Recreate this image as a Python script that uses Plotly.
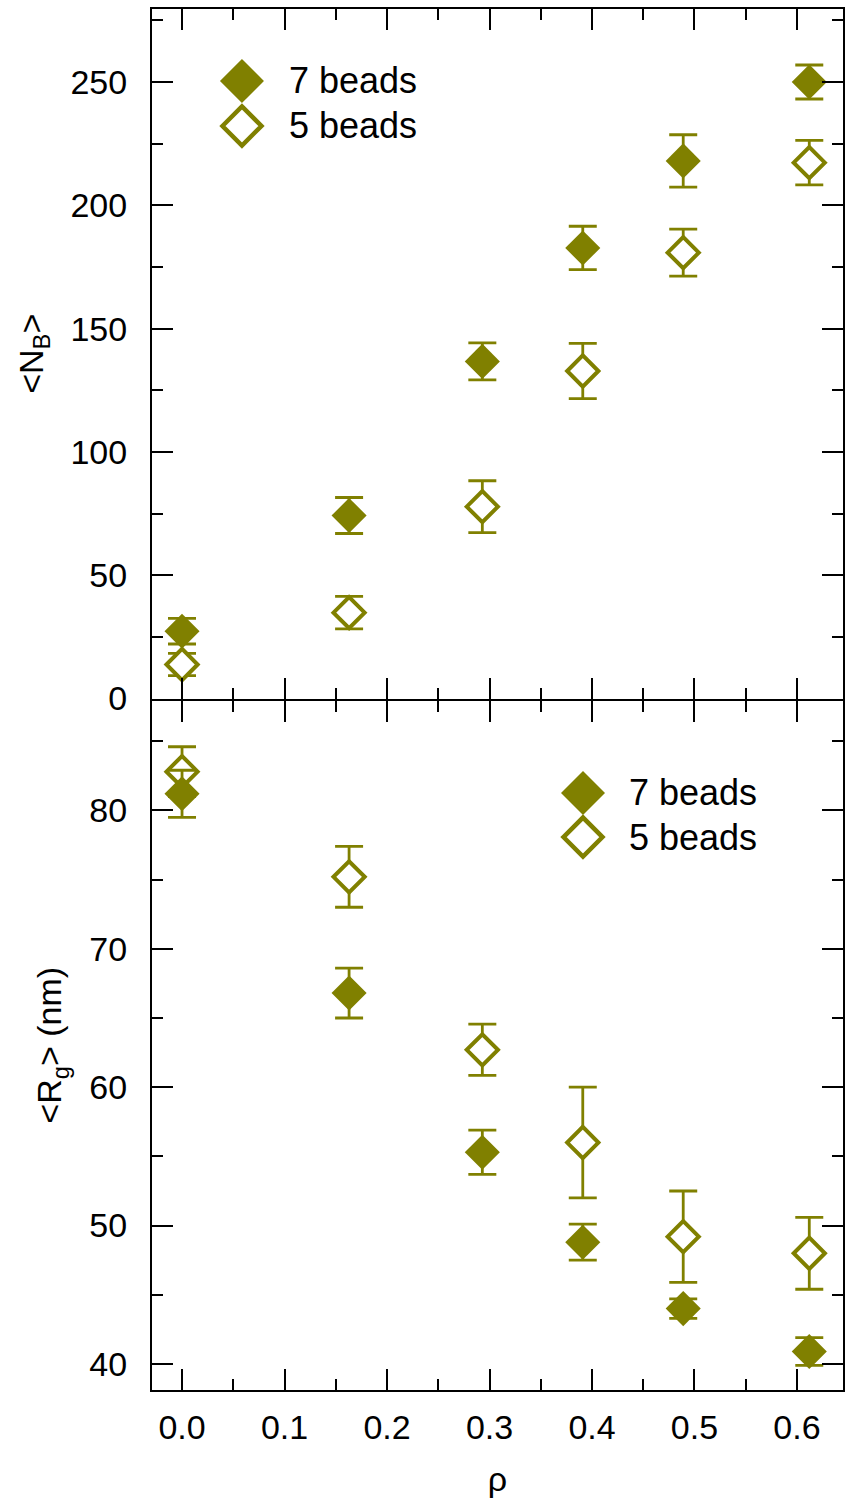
import plotly.graph_objects as go
from plotly.subplots import make_subplots

# densities (rho) shared by both panels
rho = [0.0, 0.163, 0.293, 0.391, 0.489, 0.612]

# <N_B>, top panel
nb_7 = [27.3, 74.2, 136.7, 182.7, 218.0, 250.0]
nb_7_err = [5.2, 7.3, 7.5, 8.8, 10.6, 6.9]
nb_5 = [13.8, 34.8, 77.8, 132.8, 180.8, 217.3]
nb_5_err = [4.5, 6.6, 10.5, 11.2, 9.5, 9.0]

# <R_g> (nm), bottom panel
rg_7 = [81.2, 66.8, 55.3, 48.8, 44.0, 40.9]
rg_7_err = [1.7, 1.8, 1.6, 1.3, 0.7, 1.0]
rg_5 = [82.8, 75.2, 62.7, 56.0, 49.2, 48.0]
rg_5_err = [1.8, 2.2, 1.85, 4.0, 3.3, 2.6]

labels = ["7 beads", "5 beads"]

OLIVE = "#808000"
FONT = "Liberation Sans, Arial, sans-serif"

# small gap so the two 2px axis lines land on the same pixel row
fig = make_subplots(rows=2, cols=1, shared_xaxes=True,
                    vertical_spacing=2 / 1381)


def add_pair(row, y_open, e_open, y_fill, e_fill):
    # open (white-filled) diamonds first, filled ones drawn on top
    fig.add_trace(go.Scatter(
        x=rho, y=y_open, mode="markers", name=labels[1], showlegend=False,
        marker=dict(symbol="diamond", size=24, color="white",
                    line=dict(color=OLIVE, width=4)),
        error_y=dict(type="data", array=e_open, color=OLIVE,
                     thickness=2.8, width=14),
    ), row=row, col=1)
    fig.add_trace(go.Scatter(
        x=rho, y=y_fill, mode="markers", name=labels[0], showlegend=False,
        marker=dict(symbol="diamond", size=27, color=OLIVE,
                    line=dict(width=0)),
        error_y=dict(type="data", array=e_fill, color=OLIVE,
                     thickness=2.8, width=14),
    ), row=row, col=1)


add_pair(1, nb_5, nb_5_err, nb_7, nb_7_err)
add_pair(2, rg_5, rg_5_err, rg_7, rg_7_err)


# hand-drawn legends (big symbols, like the original)
def legend_block(x, y_fill, y_open, x_text):
    fig.add_shape(type="path", xref="paper", yref="paper",
                  xsizemode="pixel", ysizemode="pixel",
                  xanchor=x, yanchor=y_fill,
                  path="M -22,0 L 0,22 L 22,0 L 0,-22 Z",
                  fillcolor=OLIVE, line=dict(width=0))
    fig.add_shape(type="path", xref="paper", yref="paper",
                  xsizemode="pixel", ysizemode="pixel",
                  xanchor=x, yanchor=y_open,
                  path="M -19.5,0 L 0,19.5 L 19.5,0 L 0,-19.5 Z",
                  fillcolor="white", line=dict(color=OLIVE, width=4.5))
    for lab, yy in zip(labels, [y_fill, y_open]):
        fig.add_annotation(x=x_text, y=yy, xref="paper", yref="paper",
                           text=lab, showarrow=False, xanchor="left",
                           yanchor="middle", font=dict(size=36, color="black"))


legend_block(0.1302, 0.9479, 0.9153, 0.1955)
legend_block(0.6237, 0.4323, 0.4004, 0.6875)

axis_common = dict(
    showline=True, linecolor="black", linewidth=2, mirror="ticks",
    ticks="inside", ticklen=21, tickwidth=2, tickcolor="black",
    showgrid=False, zeroline=False,
    tickfont=dict(size=34, color="black", family=FONT),
)

fig.update_xaxes(**axis_common, range=[-0.0293, 0.6449], dtick=0.1, tick0=0,
                 tickformat=".1f", ticklabelstandoff=6,
                 minor=dict(dtick=0.05, tick0=0, ticks="inside", ticklen=11,
                            tickwidth=2, tickcolor="black", showgrid=False))
fig.update_xaxes(showticklabels=False, row=1, col=1)
fig.update_xaxes(title=dict(text="ρ", font=dict(size=34, family=FONT),
                            standoff=22), row=2, col=1)

fig.update_yaxes(**axis_common)
fig.update_yaxes(range=[0, 279.6], dtick=50, tick0=0, ticklabelstandoff=16,
                 minor=dict(dtick=25, tick0=0, ticks="inside", ticklen=11,
                            tickwidth=2, tickcolor="black", showgrid=False),
                 title=dict(text="&lt;N<sub>B</sub>&gt;",
                            font=dict(size=34, family=FONT), standoff=17),
                 row=1, col=1)
fig.update_yaxes(range=[38.12, 87.94], dtick=10, tick0=0, ticklabelstandoff=16,
                 minor=dict(dtick=5, tick0=0, ticks="inside", ticklen=11,
                            tickwidth=2, tickcolor="black", showgrid=False),
                 title=dict(text="&lt;R<sub>g</sub>&gt; (nm)",
                            font=dict(size=34, family=FONT), standoff=17),
                 row=2, col=1)

fig.update_layout(
    width=851, height=1510,
    margin=dict(l=152, r=8, t=9, b=120, autoexpand=False),
    plot_bgcolor="white", paper_bgcolor="white",
    font=dict(family=FONT, color="black"),
    showlegend=False,
)

# the page body has an 8px default margin; drop it so the figure sits at 0,0
fig.write_html("out.html", config={"displayModeBar": False},
               post_script="document.body.style.margin='0';")
